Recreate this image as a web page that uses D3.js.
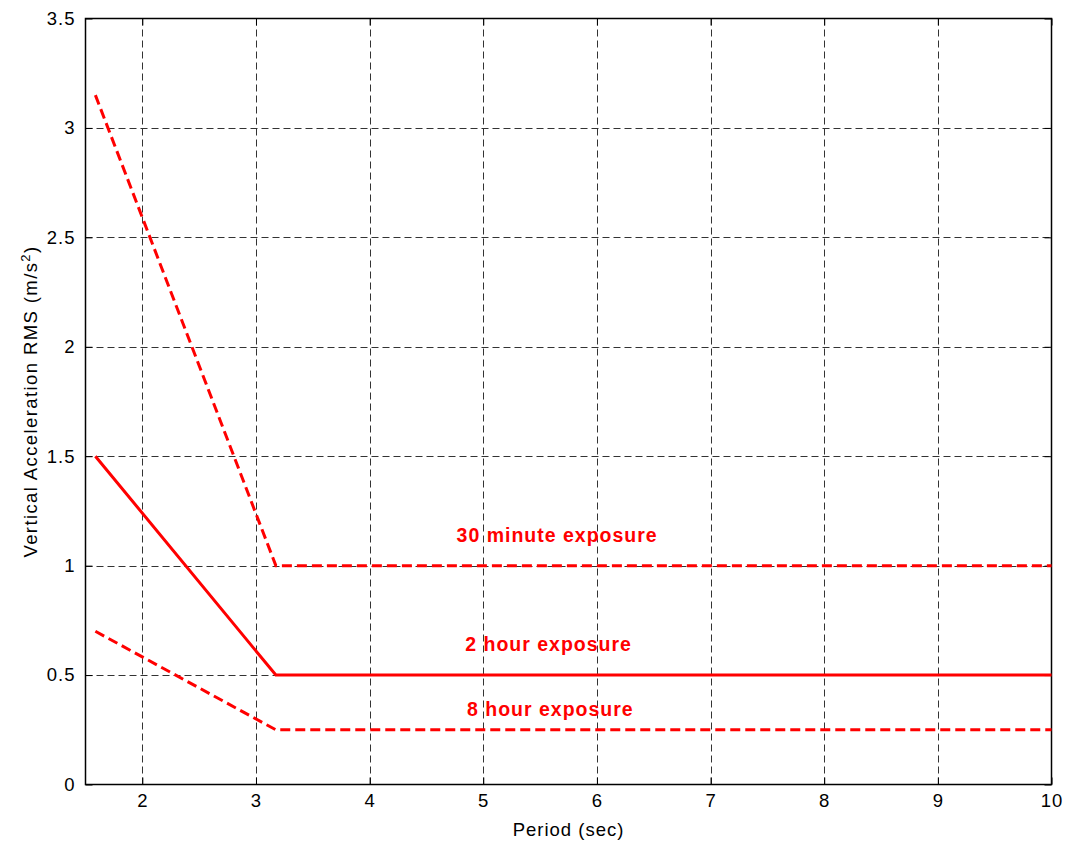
<!DOCTYPE html>
<html>
<head>
<meta charset="utf-8">
<script src="https://cdn.jsdelivr.net/npm/d3@7"></script>
<style>
  html, body { margin: 0; padding: 0; background: #fff; }
  svg { display: block; font-family: Arial, "Liberation Sans", sans-serif; }
</style>
</head>
<body>
<svg id="chart" width="1067" height="842"></svg>
<script>
// Exposure limit curves: vertical acceleration RMS vs. period
const periods = [1.587, 3.175, 10];
const series30min = [3.15, 1.0, 1.0];
const series2hr = [1.5, 0.5, 0.5];
const series8hr = [0.7, 0.25, 0.25];
const seriesNames = ["30 minute exposure", "2 hour exposure", "8 hour exposure"];
const xTicks = [2, 3, 4, 5, 6, 7, 8, 9, 10];
const yTicks = [0, 0.5, 1, 1.5, 2, 2.5, 3, 3.5];

const margin = { left: 85.5, top: 18.5, right: 1067 - 1051.5, bottom: 842 - 784.5 };
const W = 1067, H = 842;
const svg = d3.select("#chart");

const x = d3.scaleLinear().domain([1.5, 10]).range([margin.left, W - margin.right]);
const y = d3.scaleLinear().domain([0, 3.5]).range([H - margin.bottom, margin.top]);

// Grid
const grid = svg.append("g").attr("stroke", "#333").attr("stroke-width", 1)
  .attr("stroke-dasharray", "7,4").attr("fill", "none");
xTicks.slice(0, -1).forEach(t => {
  grid.append("line").attr("x1", Math.round(x(t)) + 0.5).attr("x2", Math.round(x(t)) + 0.5)
    .attr("y1", y(0)).attr("y2", y(3.5));
});
yTicks.slice(1, -1).forEach(t => {
  grid.append("line").attr("y1", Math.round(y(t)) + 0.5).attr("y2", Math.round(y(t)) + 0.5)
    .attr("x1", x(1.5)).attr("x2", x(10));
});

// Axes (ticks inside, on all four sides)
const tickLen = 7;
const xAxisB = d3.axisBottom(x).tickValues(xTicks).tickSizeInner(-tickLen).tickSizeOuter(0).tickPadding(9).tickFormat(d3.format("d"));
const xAxisT = d3.axisTop(x).tickValues(xTicks).tickSizeInner(-tickLen).tickSizeOuter(0).tickFormat("");
const yAxisL = d3.axisLeft(y).tickValues(yTicks).tickSizeInner(-tickLen).tickSizeOuter(0).tickPadding(10).tickFormat(d => d3.format("")(d));
const yAxisR = d3.axisRight(y).tickValues(yTicks).tickSizeInner(-tickLen).tickSizeOuter(0).tickFormat("");

function styleAxis(g) {
  g.select(".domain").remove();
  g.selectAll(".tick line").attr("stroke", "#000");
  g.selectAll(".tick text").attr("fill", "#000").style("font-size", "18.5px")
    .style("letter-spacing", "1px")
    .style("font-family", "Arial, 'Liberation Sans', sans-serif");
}
svg.append("g").attr("transform", `translate(0,${y(0)})`).call(xAxisB).call(styleAxis);
svg.append("g").attr("transform", `translate(0,${y(3.5)})`).call(xAxisT).call(styleAxis);
svg.append("g").attr("transform", `translate(${x(1.5)},0)`).call(yAxisL).call(styleAxis);
svg.append("g").attr("transform", `translate(${x(10)},0)`).call(yAxisR).call(styleAxis);

// Box
svg.append("rect").attr("x", x(1.5)).attr("y", y(3.5))
  .attr("width", x(10) - x(1.5)).attr("height", y(0) - y(3.5))
  .attr("fill", "none").attr("stroke", "#000").attr("stroke-width", 1.5);

// Curves
const line = d3.line().x((d, i) => x(periods[i])).y(d => y(d));
const curves = [
  { values: series30min, dash: "10,5" },
  { values: series2hr, dash: null },
  { values: series8hr, dash: "10,5" }
];
curves.forEach(c => {
  svg.append("path").datum(c.values).attr("d", line)
    .attr("fill", "none").attr("stroke", "#ff0000").attr("stroke-width", 3)
    .attr("stroke-dasharray", c.dash);
});

// Curve labels, placed above each flat segment
const labelPos = [
  { px: 5.65, val: series30min[2], dy: -24 },
  { px: 5.575, val: series2hr[2], dy: -24 },
  { px: 5.59, val: series8hr[2], dy: -14 }
];
labelPos.forEach((p, i) => {
  svg.append("text").attr("x", x(p.px)).attr("y", y(p.val) + p.dy)
    .attr("text-anchor", "middle").attr("fill", "#ff0000")
    .style("font-weight", "bold").style("font-size", "19.5px")
    .style("letter-spacing", "1px")
    .text(seriesNames[i]);
});

// Axis titles
svg.append("text").attr("x", (x(1.5) + x(10)) / 2).attr("y", 836)
  .attr("text-anchor", "middle").style("font-size", "18.5px")
  .style("letter-spacing", "1px").text("Period (sec)");
const yl = svg.append("text")
  .attr("transform", `translate(37,${(y(0) + y(3.5)) / 2}) rotate(-90)`)
  .attr("text-anchor", "middle").style("font-size", "18.5px")
  .style("letter-spacing", "1.4px");
yl.append("tspan").text("Vertical Acceleration RMS (m/s");
yl.append("tspan").attr("dy", -7).style("font-size", "13px").text("2");
yl.append("tspan").attr("dy", 7).text(")");
</script>
</body>
</html>
